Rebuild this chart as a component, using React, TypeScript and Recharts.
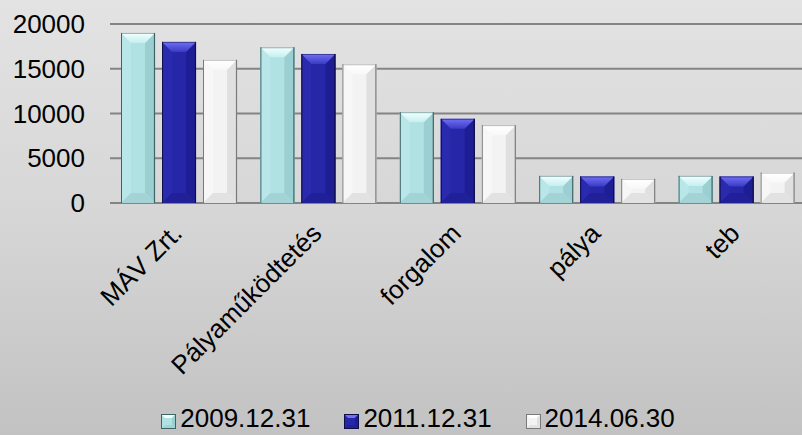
import React from "react"
import { BarChart, Bar, XAxis, YAxis, CartesianGrid, Legend } from "recharts"

const categories = ["MÁV Zrt.", "Pályaműködtetés", "forgalom", "pálya", "teb"]
const s2009 = [19000, 17400, 10150, 3030, 3030]
const s2011 = [18000, 16650, 9400, 2960, 2960]
const s2014 = [16000, 15500, 8700, 2700, 3400]
const seriesNames = ["2009.12.31", "2011.12.31", "2014.06.30"]
const yTicks = [0, 5000, 10000, 15000, 20000]

const data = categories.map((name, i) => ({
  name,
  a: s2009[i],
  b: s2011[i],
  c: s2014[i],
}))

// bevel colours per series
const palette = [
  { body: "#b0e2e4", top1: "#f2ffff", top2: "#c6eff0", left: "#b9e7e9", right: "#9ccfd1", bottom: "#a3d3d5", line: "#3d6566" },
  { body: "#2626a8", top1: "#7070f4", top2: "#3a3ac4", left: "#2a2aae", right: "#1e1e94", bottom: "#202098", line: "#0e0e48" },
  { body: "#f3f3f3", top1: "#ffffff", top2: "#f8f8f8", left: "#f7f7f7", right: "#e0e0e0", bottom: "#e2e2e2", line: "#7a7a7a" },
]

const FONT = "'Liberation Sans', Arial, sans-serif"

function makeBevel(idx: number) {
  const c = palette[idx]
  return (props: any) => {
    const { x, y, width: w, height: h } = props
    if (!h || h <= 0) return null
    const b = Math.min(10, h / 2, w / 2)
    return (
      <g>
        <rect x={x} y={y} width={w} height={h} fill={c.body} />
        <polygon points={`${x},${y} ${x + b},${y + b} ${x + b},${y + h - b} ${x},${y + h}`} fill={c.left} />
        <polygon points={`${x + w},${y} ${x + w - b},${y + b} ${x + w - b},${y + h - b} ${x + w},${y + h}`} fill={c.right} />
        <polygon points={`${x},${y + h} ${x + b},${y + h - b} ${x + w - b},${y + h - b} ${x + w},${y + h}`} fill={c.bottom} />
        <polygon points={`${x},${y} ${x + w},${y} ${x + w - b},${y + b} ${x + b},${y + b}`} fill={`url(#top${idx})`} />
        <line x1={x + 0.5} y1={y} x2={x + 0.5} y2={y + h} stroke={c.line} strokeWidth={1} />
        <line x1={x + w - 0.5} y1={y} x2={x + w - 0.5} y2={y + h} stroke={c.line} strokeWidth={1.2} />
        <line x1={x} y1={y + 0.5} x2={x + w} y2={y + 0.5} stroke={c.line} strokeOpacity={0.5} strokeWidth={1} />
      </g>
    )
  }
}

const XTick = (props: any) => {
  const { x, y, payload } = props
  const px = x + 4
  const py = y + 24
  return (
    <text
      x={px}
      y={py}
      transform={`rotate(-45, ${px}, ${py})`}
      textAnchor="end"
      fontSize={26}
      fontFamily={FONT}
      fill="#000"
    >
      {payload.value}
    </text>
  )
}

const LegendIcon = ({ idx }: { idx: number }) => {
  const c = palette[idx]
  const s = 15
  const b = 4
  return (
    <svg width={s} height={s} style={{ marginRight: 4, marginTop: 6 }}>
      <rect x={0} y={0} width={s} height={s} fill={c.body} />
      <polygon points={`0,0 ${s},0 ${s - b},${b} ${b},${b}`} fill={c.top1} />
      <polygon points={`${s},0 ${s - b},${b} ${s - b},${s - b} ${s},${s}`} fill={c.right} />
      <polygon points={`0,${s} ${b},${s - b} ${s - b},${s - b} ${s},${s}`} fill={c.bottom} />
      <rect x={0.5} y={0.5} width={s - 1} height={s - 1} fill="none" stroke={c.line} />
    </svg>
  )
}

const renderLegend = () => (
  <div
    style={{
      display: "flex",
      justifyContent: "center",
      alignItems: "center",
      fontFamily: FONT,
      fontSize: 26,
      color: "#000",
      paddingLeft: 34,
      lineHeight: "26px",
    }}
  >
    {seriesNames.map((n, i) => (
      <div key={n} style={{ display: "flex", alignItems: "center", marginRight: i < 2 ? 34 : 0 }}>
        <LegendIcon idx={i} />
        <span>{n}</span>
      </div>
    ))}
  </div>
)

export default function App() {
  return (
    <div
      style={{
        position: "absolute",
        left: 0,
        top: 0,
        width: 802,
        height: 435,
        background: "linear-gradient(to bottom, #e3e3e3 0%, #d6d6d6 50%, #c2c2c2 100%)",
        overflow: "hidden",
      }}
    >
      <BarChart
        width={802}
        height={435}
        data={data}
        margin={{ top: 24, right: -5, left: 0, bottom: 0 }}
        barCategoryGap={11}
        barGap={7}
      >
        <defs>
          {palette.map((c, i) => (
            <linearGradient key={i} id={`top${i}`} x1="0" y1="0" x2="0" y2="1">
              <stop offset="0%" stopColor={c.top1} />
              <stop offset="100%" stopColor={c.top2} />
            </linearGradient>
          ))}
        </defs>
        <CartesianGrid vertical={false} stroke="#848484" strokeWidth={2} />
        <XAxis
          dataKey="name"
          height={200}
          axisLine={false}
          tickLine={false}
          interval={0}
          tick={<XTick />}
        />
        <YAxis
          width={110}
          domain={[0, 20000]}
          ticks={yTicks}
          axisLine={false}
          tickLine={false}
          tickSize={0}
          tickMargin={25}
          tick={{ fontSize: 26, fontFamily: FONT, fill: "#000" }}
        />
        <Legend
          verticalAlign="bottom"
          height={32}
          content={renderLegend}
          wrapperStyle={{ bottom: -2, left: 0, width: 802 }}
        />
        <Bar dataKey="a" name={seriesNames[0]} shape={makeBevel(0)} isAnimationActive={false} />
        <Bar dataKey="b" name={seriesNames[1]} shape={makeBevel(1)} isAnimationActive={false} />
        <Bar dataKey="c" name={seriesNames[2]} shape={makeBevel(2)} isAnimationActive={false} />
      </BarChart>
    </div>
  )
}
